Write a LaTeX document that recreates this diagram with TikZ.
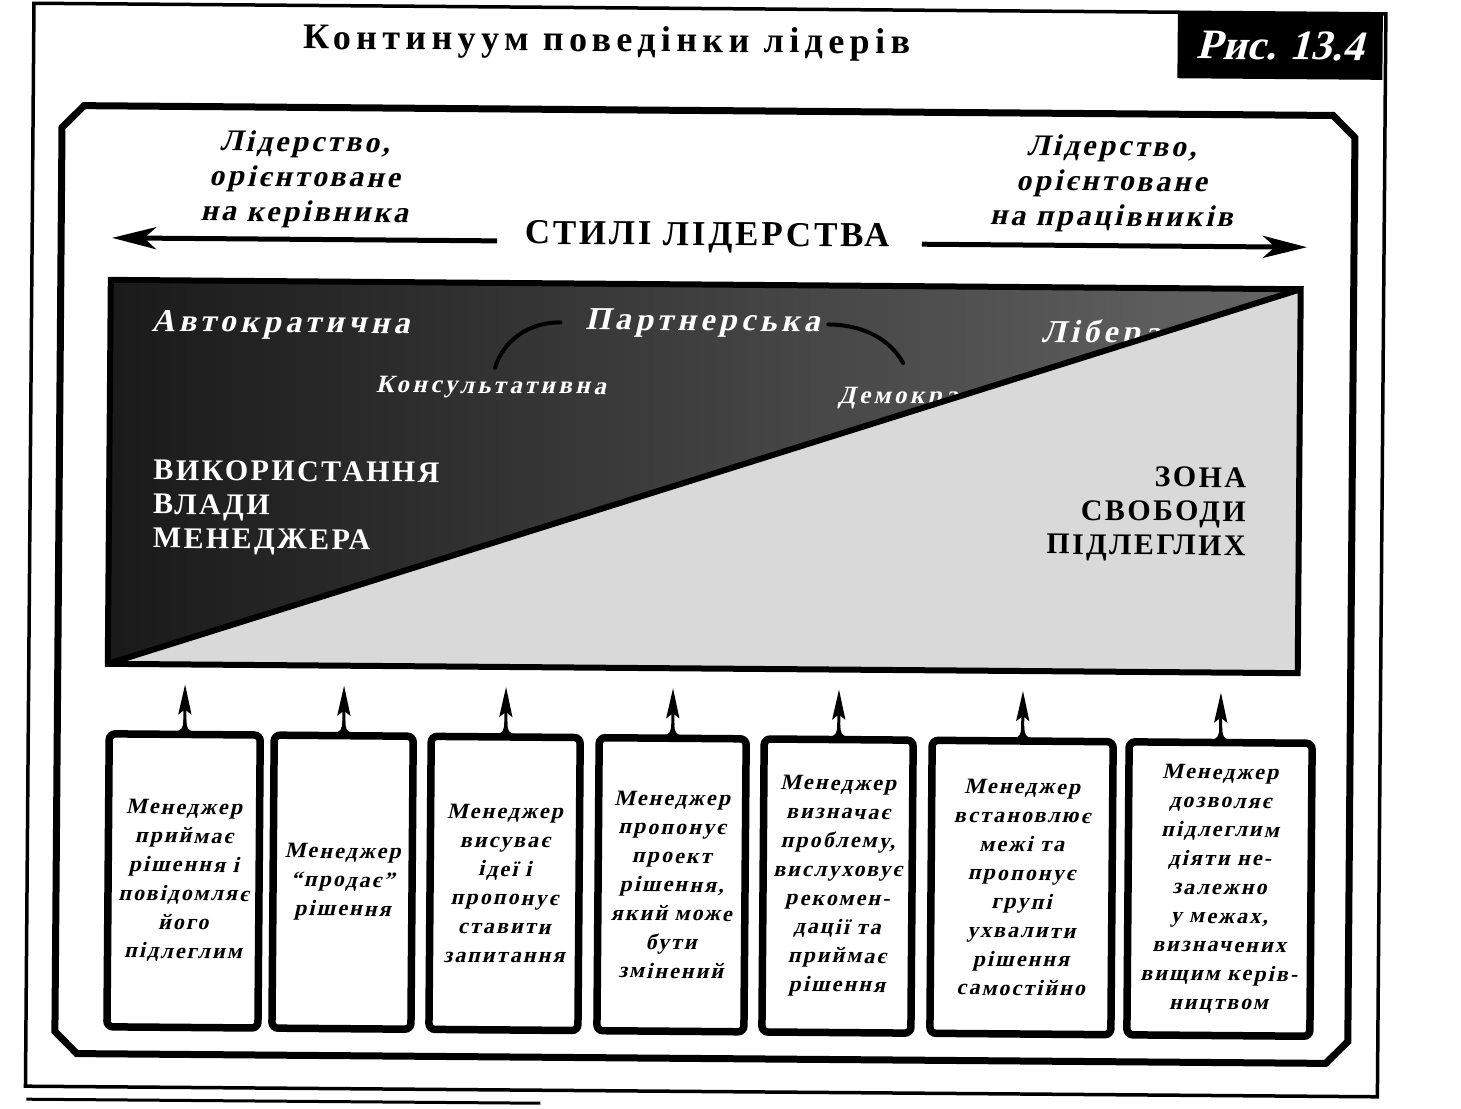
\documentclass[tikz,border=0pt]{standalone}
\usepackage{fontspec}
\setmainfont{Liberation Serif}
\newfontfamily\ttlfont{Liberation Serif Bold}[LetterSpace=15]
\newfontfamily\capfont{Liberation Serif Bold}[LetterSpace=8]
\newfontfamily\itfont{Liberation Serif Bold}[LetterSpace=10, FakeSlant=0.22]
\newfontfamily\figfont{Liberation Serif Bold}[FakeSlant=0.25]
\newfontfamily\dkfont{Liberation Serif Bold}[LetterSpace=14, FakeSlant=0.22]
\newfontfamily\boxfont{Liberation Serif Bold}[LetterSpace=9.5, FakeSlant=0.22]
\usetikzlibrary{arrows.meta}
\tikzset{
  bigarrow/.style={line width=5, -{Stealth[length=44, width=22, inset=12]}},
  uparrow/.style={line width=3, -{Stealth[length=30, width=13, inset=5]}},
  mbox/.style={draw, line width=7.5, rounded corners=6, fill=white, minimum height=293,
     inner sep=0, align=center, font=\boxfont\fontsize{22}{28.8}\selectfont},
  ltext/.style={align=center, inner sep=0, font=\itfont\fontsize{30}{35}\selectfont},
  dtextA/.style={text=white, inner sep=0, font=\dkfont\fontsize{32}{36}\selectfont},
  dtextB/.style={text=white, inner sep=0, font=\dkfont\fontsize{25}{28}\selectfont},
  captext/.style={inner sep=0, font=\capfont\fontsize{30}{34}\selectfont},
  arcline/.style={line width=4, line cap=round}
}
\begin{document}
\begin{tikzpicture}[x=1pt,y=-1pt]
\useasboundingbox (0,0) rectangle (1461,1108);
\fill[white] (0,0) rectangle (1461,1108);
\begin{scope}[rotate=-0.45, every node/.append style={transform shape}]
% outer frame
\draw[line width=3.5] (34,3) rectangle (1386,1086);
\draw[line width=3] (35,1099) -- (549,1099);
% title
\node[inner sep=0, font=\ttlfont\fontsize{36}{40}\selectfont] (title) at (607,38) {Континуум поведінки лідерів};
\node[fill=black, text=white, minimum width=205, minimum height=66, inner sep=0,
      font=\figfont\fontsize{42}{48}\selectfont] (fig) at (1280.5,36) {Рис. 13.4};
% inner octagonal frame
\draw[line width=7] (85,105) -- (1334,105) -- (1356,127) -- (1356,1031) -- (1334,1053)
   -- (85,1053) -- (63,1031) -- (63,127) -- cycle;
% top texts
\node[ltext] (lleft) at (306,177) {Лідерство,\\орієнтоване\\на керівника};
\node[ltext] (lright) at (1113,175) {Лідерство,\\орієнтоване\\на працівників};
\node[inner sep=0, font=\capfont\fontsize{35}{40}\selectfont] (stili) at (709,232) {СТИЛІ ЛІДЕРСТВА};
\coordinate (la) at (114,237);
\coordinate (lb) at (499,237);
\coordinate (ra) at (924,237);
\coordinate (rb) at (1309,237);
\draw[bigarrow] (lb) -- (la);
\draw[bigarrow] (ra) -- (rb);
% big rectangle
\begin{scope}
\clip (113,279) rectangle (1303,663);
\fill[black!15] (110,276) rectangle (1306,666);
\shade[left color=black!90, right color=black!60] (113,279) -- (1303,279) -- (113,663) -- cycle;
\end{scope}
\begin{scope}
\clip (113,279) -- (1303,279) -- (113,663) -- cycle;
\node[dtextA] (avt) at (283,323) {Автократична};
\node[dtextA] (part) at (705,318) {Партнерська};
\node[dtextA, anchor=west] (lib) at (1044,326) {Ліберальна};
\node[dtextB] (kons) at (494,384) {Консультативна};
\node[dtextB, anchor=west] (dem) at (841,391) {Демократична};
\end{scope}
\coordinate (a1s) at (498,364);
\coordinate (a1e) at (563,318);
\coordinate (a2s) at (831,318);
\coordinate (a2e) at (906,356);
\draw[arcline] (a1s) .. controls (506,336) and (532,318) .. (a1e);
\draw[arcline] (a2s) .. controls (868,318) and (894,334) .. (a2e);
\node[captext, text=white, anchor=west, align=left] (vlada) at (157,506) {ВИКОРИСТАННЯ\\ВЛАДИ\\МЕНЕДЖЕРА};
\node[captext, anchor=east, align=right] (zona) at (1250,505) {ЗОНА\\СВОБОДИ\\ПІДЛЕГЛИХ};
\draw[line width=6] (113,279) rectangle (1303,663);
\draw[line width=6] (113,663) -- (1303,279);
% boxes
\node[mbox, minimum width=151] (b1) at (190.5,879.5) {Менеджер\\приймає\\рішення і\\повідомляє\\його\\підлеглим};
\node[mbox, minimum width=139] (b2) at (349.5,879.5) {Менеджер\\“продає”\\рішення};
\node[mbox, minimum width=149] (b3) at (511.5,879.5) {Менеджер\\висуває\\ідеї і\\пропонує\\ставити\\запитання};
\node[mbox, minimum width=147] (b4) at (678.5,879.5) {Менеджер\\пропонує\\проект\\рішення,\\який може\\бути\\змінений};
\node[mbox, minimum width=149] (b5) at (844.5,879.5) {Менеджер\\визначає\\проблему,\\вислуховує\\рекомен-\\дації та\\приймає\\рішення};
\node[mbox, minimum width=181] (b6) at (1028.5,879.5) {Менеджер\\встановлює\\межі та\\пропонує\\групі\\ухвалити\\рішення\\самостійно};
\node[mbox, minimum width=183] (b7) at (1226.5,879.5) {Менеджер\\дозволяє\\підлеглим\\діяти не-\\залежно\\у межах,\\визначених\\вищим керів-\\ництвом};
\foreach \i/\x in {1/190.5,2/349.5,3/511.5,4/678.5,5/844.5,6/1028.5,7/1226.5}{
  \coordinate (t\i) at (\x,683);
  \draw[uparrow] (b\i.north) -- (t\i);
  \fill (\x-10,730) .. controls (\x-3,730) and (\x-1.5,726) .. (\x-1.5,718)
     -- (\x+1.5,718) .. controls (\x+1.5,726) and (\x+3,730) .. (\x+10,730) -- cycle;
}
\end{scope}
\end{tikzpicture}
\end{document}
